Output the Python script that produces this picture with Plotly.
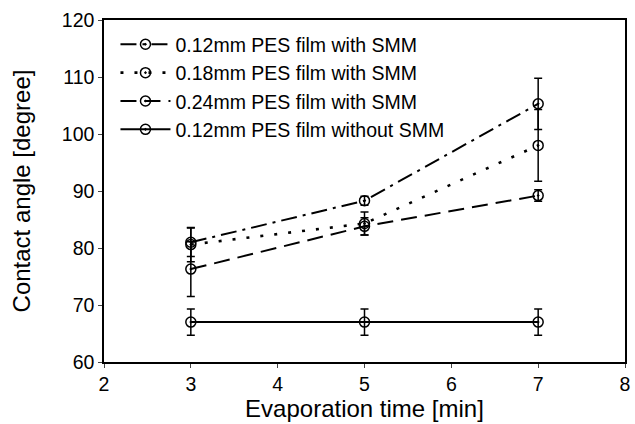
import plotly.graph_objects as go

x_vals = [3, 5, 7]
names = ["0.12mm PES film with SMM", "0.18mm PES film with SMM",
         "0.24mm PES film with SMM", "0.12mm PES film without SMM"]
s1 = [81.0, 88.3, 105.3]
s1_err = [2.5, 0.8, 4.5]
s2 = [80.6, 84.3, 98.0]
s2_err = [3.0, 2.0, 6.3]
s3 = [76.3, 83.8, 89.2]
s3_err = [4.8, 1.5, 1.0]
s4 = [67.0, 67.0, 67.0]
s4_err = [2.3, 2.3, 2.3]

x_ticks = [2, 3, 4, 5, 6, 7, 8]
y_ticks = [60, 70, 80, 90, 100, 110, 120]

dashes = ["16px,6px,3px,6px", "3px,11px", "16px,8px", "solid"]
widths = [2, 2.6, 2, 2]
series = [s1, s2, s3, s4]
errs = [s1_err, s2_err, s3_err, s4_err]

fig = go.Figure()
for name, ys, es, d, w in zip(names, series, errs, dashes, widths):
    fig.add_trace(go.Scatter(
        x=x_vals, y=ys, name=name, mode="lines+markers",
        line=dict(color="black", width=w, dash=d),
        marker=dict(symbol="circle-open-dot", size=10, color="black",
                    line=dict(width=1.5, color="black")),
        error_y=dict(type="data", array=es, visible=True, color="black",
                     thickness=1.5, width=4),
    ))

font_family = "Liberation Sans, Arial, sans-serif"
fig.update_layout(
    width=635, height=424,
    margin=dict(l=104, r=5, t=20, b=62),
    paper_bgcolor="white", plot_bgcolor="white",
    font=dict(family=font_family, color="black", size=20),
    showlegend=True,
    legend=dict(x=0.022, y=0.985, xanchor="left", yanchor="top",
                bgcolor="rgba(0,0,0,0)", font=dict(size=19.5),
                itemwidth=50, tracegroupgap=0),
)
fig.update_xaxes(
    range=[2, 8], tickvals=x_ticks, ticks="outside", ticklen=4,
    showline=True, linecolor="black", linewidth=1.5, mirror=True,
    showgrid=False, zeroline=False,
    title=dict(text="Evaporation time [min]", font=dict(size=24), standoff=3),
    tickfont=dict(size=19.5),
)
fig.update_yaxes(
    range=[60, 120], tickvals=y_ticks, ticks="outside", ticklen=4,
    showline=True, linecolor="black", linewidth=1.5, mirror=True,
    showgrid=False, zeroline=False,
    title=dict(text="Contact angle [degree]", font=dict(size=24), standoff=24),
    tickfont=dict(size=19.5),
)

fig.write_html("out.html")
